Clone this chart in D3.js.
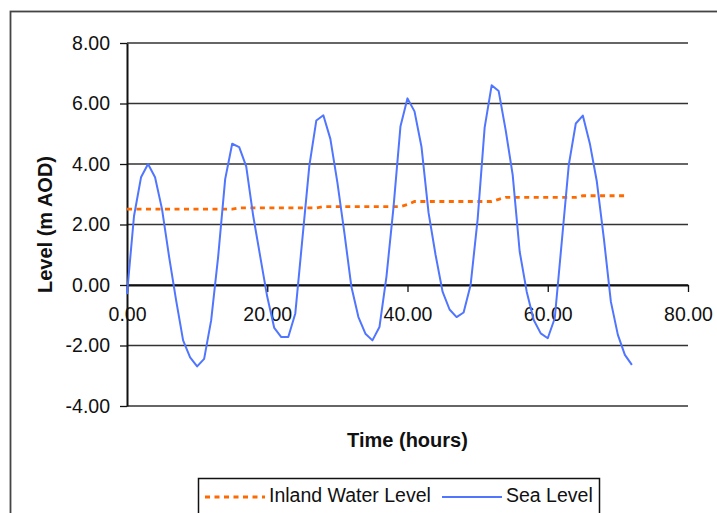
<!DOCTYPE html>
<html>
<head>
<meta charset="utf-8">
<script src="https://cdn.jsdelivr.net/npm/d3@7"></script>
<style>
  body { margin: 0; background: #fff; }
  text { font-family: "Liberation Sans", Arial, sans-serif; fill: #111; }
  .axis-label { font-weight: bold; font-size: 20px; }
</style>
</head>
<body>
<div id="chart"></div>
<script>
// hours 0..72
const hours = d3.range(0, 73);
const seaLevel = [
  -0.30, 2.28, 3.56, 4.00, 3.56, 2.50, 0.94, -0.50, -1.83, -2.39,
  -2.69, -2.44, -1.17, 0.94, 3.50, 4.67, 4.56, 3.92, 2.28, 0.94,
  -0.39, -1.42, -1.72, -1.72, -0.94, 1.50, 3.94, 5.44, 5.61, 4.83,
  3.39, 1.72, -0.06, -1.06, -1.61, -1.83, -1.39, 0.28, 2.56, 5.25,
  6.17, 5.74, 4.56, 2.39, 1.00, -0.22, -0.81, -1.06, -0.91, 0.00,
  2.17, 5.20, 6.60, 6.41, 5.12, 3.64, 1.10, -0.22, -1.16, -1.60,
  -1.76, -1.10, 1.43, 3.97, 5.34, 5.60, 4.68, 3.42, 1.54, -0.55,
  -1.65, -2.31, -2.64
];
const inlandLevel = [
  2.51, 2.51, 2.51, 2.51, 2.51, 2.51, 2.51, 2.51, 2.51, 2.51,
  2.51, 2.51, 2.51, 2.51, 2.51, 2.51, 2.55, 2.55, 2.55, 2.55,
  2.55, 2.55, 2.55, 2.55, 2.55, 2.55, 2.55, 2.55, 2.59, 2.59,
  2.59, 2.59, 2.59, 2.59, 2.59, 2.59, 2.59, 2.59, 2.59, 2.59,
  2.66, 2.76, 2.76, 2.76, 2.76, 2.76, 2.76, 2.76, 2.76, 2.76,
  2.76, 2.76, 2.76, 2.83, 2.90, 2.90, 2.90, 2.90, 2.90, 2.90,
  2.90, 2.90, 2.90, 2.90, 2.90, 2.95, 2.95, 2.95, 2.95, 2.95,
  2.95, 2.95
];
const xTicks = [0, 20, 40, 60, 80];
const yTicks = [-4, -2, 0, 2, 4, 6, 8];
const seriesNames = ['Inland Water Level', 'Sea Level'];

const width = 717, height = 513;
const plot = { left: 127, right: 688, top: 43, bottom: 406 };
const seaColor = '#5075ff';
const inlandColor = '#ff6a00';
const fmt = d => d.toFixed(2);   // plain hyphen for negatives, like the original

const svg = d3.select('#chart').append('svg')
  .attr('width', width)
  .attr('height', height);

// outer chart frame
svg.append('rect')
  .attr('x', 10.5).attr('y', 11.5)
  .attr('width', 760).attr('height', 560)
  .attr('fill', 'none')
  .attr('stroke', '#444')
  .attr('stroke-width', 1.8);

const xScale = d3.scaleLinear().domain([0, 80]).range([plot.left, plot.right]);
const yScale = d3.scaleLinear().domain([-4, 8]).range([plot.bottom, plot.top]);

// horizontal gridlines
svg.append('g')
  .selectAll('line')
  .data(yTicks)
  .enter()
  .append('line')
  .attr('x1', plot.left).attr('x2', plot.right)
  .attr('y1', d => yScale(d)).attr('y2', d => yScale(d))
  .attr('stroke', '#333')
  .attr('stroke-width', 1.4);

const yAxis = d3.axisLeft(yScale)
  .tickValues(yTicks)
  .tickFormat(fmt)
  .tickSize(7)
  .tickSizeOuter(0)
  .tickPadding(10);

const yAxisG = svg.append('g')
  .attr('transform', `translate(${plot.left},0)`)
  .call(yAxis);
yAxisG.selectAll('text').style('font-size', '19.5px').style('fill', '#111');

const xAxis = d3.axisBottom(xScale)
  .tickValues(xTicks)
  .tickFormat(fmt)
  .tickSize(7)
  .tickSizeOuter(0)
  .tickPadding(15);

const xAxisG = svg.append('g')
  .attr('transform', `translate(0,${yScale(0)})`)
  .call(xAxis);
xAxisG.selectAll('text').style('font-size', '19.5px').style('fill', '#111');

[yAxisG, xAxisG].forEach(g => {
  g.select('.domain').attr('stroke', '#111').attr('stroke-width', 2);
  g.selectAll('.tick line').attr('stroke', '#111').attr('stroke-width', 1.3);
});

// series
const line = d3.line()
  .x(d => xScale(d[0]))
  .y(d => yScale(d[1]));

svg.append('path')
  .datum(inlandLevel.map((v, i) => [hours[i], v]))
  .attr('d', line)
  .attr('fill', 'none')
  .attr('stroke', inlandColor)
  .attr('stroke-width', 2.8)
  .attr('stroke-dasharray', '5,4.5');

svg.append('path')
  .datum(seaLevel.map((v, i) => [hours[i], v]))
  .attr('d', line)
  .attr('fill', 'none')
  .attr('stroke', seaColor)
  .attr('stroke-width', 2)
  .attr('stroke-linejoin', 'round');

// axis titles
svg.append('text')
  .attr('class', 'axis-label')
  .attr('x', (plot.left + plot.right) / 2)
  .attr('y', 447)
  .attr('text-anchor', 'middle')
  .text('Time (hours)');

svg.append('text')
  .attr('class', 'axis-label')
  .attr('transform', `translate(52,${(plot.top + plot.bottom) / 2}) rotate(-90)`)
  .attr('text-anchor', 'middle')
  .text('Level (m AOD)');

// legend
const legend = svg.append('g');
legend.append('rect')
  .attr('x', 198.5).attr('y', 478.5)
  .attr('width', 401).attr('height', 60)
  .attr('fill', '#fff')
  .attr('stroke', '#111')
  .attr('stroke-width', 1.5);

const legendItems = [
  { name: seriesNames[0], x: 205, color: inlandColor, dash: '5,4.5', w: 2.8 },
  { name: seriesNames[1], x: 442, color: seaColor, dash: null, w: 2 }
];
legendItems.forEach(it => {
  legend.append('line')
    .attr('x1', it.x).attr('x2', it.x + 60)
    .attr('y1', 497).attr('y2', 497)
    .attr('stroke', it.color)
    .attr('stroke-width', it.w)
    .attr('stroke-dasharray', it.dash);
  legend.append('text')
    .attr('x', it.x + 64)
    .attr('y', 502)
    .style('font-size', '19.5px')
    .text(it.name);
});
</script>
</body>
</html>
